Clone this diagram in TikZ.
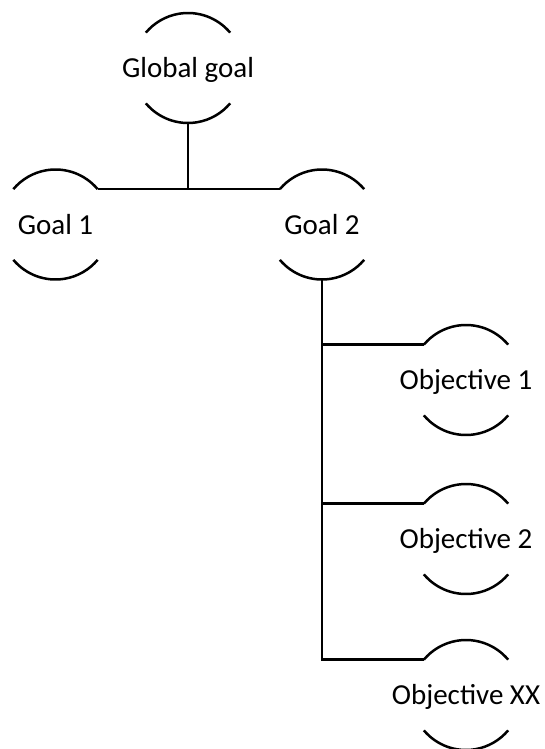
\documentclass[tikz,border=0pt]{standalone}
\usepackage{fontspec}
\setmainfont{Carlito}
\begin{document}
\begin{tikzpicture}[x=1pt,y=1pt,
  goalnode/.style={circle, minimum size=110pt, inner sep=0pt, outer sep=0pt,
    label={[goaltext]center:#1}},
  goaltext/.style={font=\fontsize{29}{34}\selectfont, text height=19pt,
    text depth=0pt, inner sep=0pt},
  halfarc/.style={line width=2.5pt},
  link/.style={line width=2.7pt}]
\useasboundingbox (0,0) rectangle (544,-749);

% goal circles (only their top and bottom arcs are drawn)
\node[goalnode={Global goal}] (gg) at (188,-68) {};
\node[goalnode={Goal 1}]      (g1) at (55.5,-224.5) {};
\node[goalnode={Goal 2}]      (g2) at (322,-224.5) {};
\node[goalnode={Objective 1}] (o1) at (466,-380) {};
\node[goalnode={Objective 2}] (o2) at (466,-539) {};
\node[goalnode={Objective XX}] (ox) at (466,-695) {};

\foreach \n in {gg,g1,g2,o1,o2,ox}{
  \draw[halfarc] (\n.40) arc[start angle=40, end angle=140, radius=55pt];
  \draw[halfarc] (\n.220) arc[start angle=220, end angle=320, radius=55pt];
}

% tree connectors
\draw[link] (gg.south) -- (gg.south |- g1.40);
\draw[link] (g1.40) -- (g2.140);
\draw[link] (g2.south) |- (ox.140);
\draw[link] (g2.south |- o1.140) -- (o1.140);
\draw[link] (g2.south |- o2.140) -- (o2.140);
\end{tikzpicture}
\end{document}
